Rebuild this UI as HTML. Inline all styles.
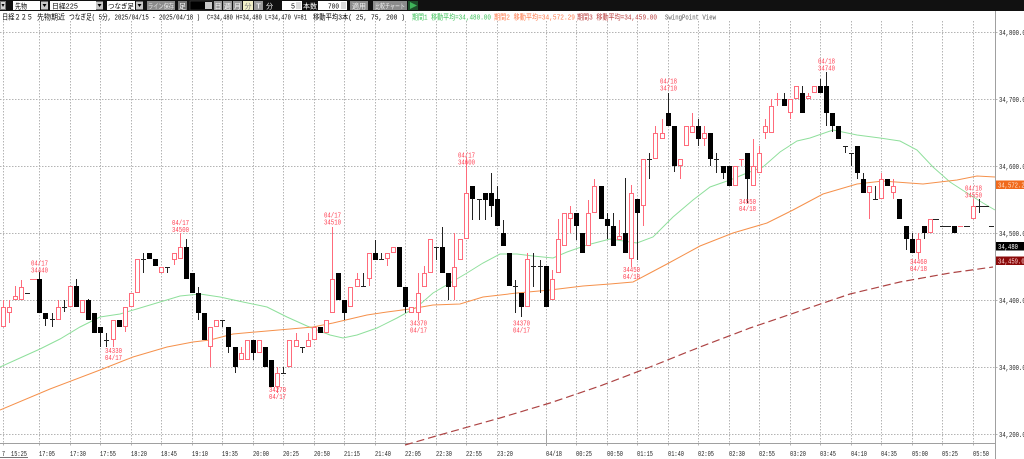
<!DOCTYPE html>
<html><head><meta charset="utf-8"><style>
html,body{margin:0;padding:0;background:#fff;}
svg{display:block;}
text{font-family:"Liberation Mono","Noto Sans CJK JP",monospace;}
</style></head><body>
<svg width="1024" height="459" viewBox="0 0 1024 459" xmlns="http://www.w3.org/2000/svg">
<rect x="0" y="0" width="1024" height="459" fill="#fff"/>
<!-- toolbar -->
<rect x="0" y="0" width="1024" height="11" fill="#111"/>
<g font-size="7" lengthAdjust="spacingAndGlyphs">
<rect x="0.5" y="1.5" width="5" height="8" fill="#d4d4d4" stroke="#777"/><polygon points="1.5,4 4.5,4 3,7" fill="#000"/>
<rect x="13" y="1" width="27" height="9" fill="#fff"/><text x="15" y="8.5" fill="#000" textLength="12" lengthAdjust="spacingAndGlyphs">先物</text>
<rect x="41" y="1.5" width="7" height="8" fill="#c8c8c8"/><polygon points="42.5,4 46.5,4 44.5,7" fill="#000"/>
<rect x="50" y="1" width="46" height="9" fill="#fff"/><text x="52" y="8.5" fill="#000" textLength="26" lengthAdjust="spacingAndGlyphs">日経225</text>
<rect x="96" y="1.5" width="7" height="8" fill="#c8c8c8"/><polygon points="97.5,4 101.5,4 99.5,7" fill="#000"/>
<rect x="107" y="1" width="28" height="9" fill="#fff"/><text x="108" y="8.5" fill="#000" textLength="26" lengthAdjust="spacingAndGlyphs">つなぎ足</text>
<rect x="136" y="1.5" width="7" height="8" fill="#c8c8c8"/><polygon points="137.5,4 141.5,4 139.5,7" fill="#000"/>
<rect x="147" y="1" width="28" height="9" fill="#8c8c8c"/><text x="148" y="8.5" fill="#e8e8e8" textLength="26" lengthAdjust="spacingAndGlyphs">ライン保存</text>
<rect x="178" y="1" width="9" height="9" fill="#777"/><text x="179" y="8.5" fill="#fff" textLength="7" lengthAdjust="spacingAndGlyphs">足</text>
<rect x="190" y="1" width="23" height="9" fill="#000" stroke="#555" stroke-width="0.5"/><rect x="205" y="2" width="7" height="7" fill="#c8c8c8"/>
<rect x="214" y="1" width="8" height="9" fill="#9a9a9a"/><text x="214.5" y="8.5" fill="#fff" textLength="7" lengthAdjust="spacingAndGlyphs">日</text>
<rect x="223" y="1" width="9" height="9" fill="#9a9a9a"/><text x="224" y="8.5" fill="#fff" textLength="7" lengthAdjust="spacingAndGlyphs">週</text>
<rect x="233" y="1" width="9" height="9" fill="#9a9a9a"/><text x="234" y="8.5" fill="#fff" textLength="7" lengthAdjust="spacingAndGlyphs">月</text>
<rect x="243" y="1" width="10" height="9" fill="#f2f0c8"/><text x="244.5" y="8.5" fill="#777" textLength="7" lengthAdjust="spacingAndGlyphs">分</text>
<rect x="254" y="1" width="9" height="9" fill="#9a9a9a"/><text x="256" y="8.5" fill="#fff" textLength="5" lengthAdjust="spacingAndGlyphs">T</text>
<text x="266" y="8.5" fill="#fff" textLength="7" lengthAdjust="spacingAndGlyphs">分</text>
<rect x="282" y="1" width="20" height="9" fill="#fff"/><text x="291" y="8.5" fill="#000" textLength="4" lengthAdjust="spacingAndGlyphs">5</text><rect x="296" y="2" width="5" height="7" fill="#ddd"/>
<text x="303" y="8.5" fill="#fff" textLength="14" lengthAdjust="spacingAndGlyphs">本数</text>
<rect x="318" y="1" width="29" height="9" fill="#fff"/><text x="328" y="8.5" fill="#000" textLength="11" lengthAdjust="spacingAndGlyphs">700</text><rect x="341" y="2" width="5" height="7" fill="#ddd"/>
<rect x="350" y="1" width="18" height="9" fill="#8c8c8c"/><text x="352" y="8.5" fill="#eee" textLength="14" lengthAdjust="spacingAndGlyphs">適用</text>
<rect x="373" y="1" width="34" height="9" fill="#8c8c8c"/><text x="375" y="8.5" fill="#eee" textLength="30" lengthAdjust="spacingAndGlyphs">比較チャート</text>
<rect x="408" y="1" width="10" height="9" fill="#1d4d2a"/><polygon points="410,2 417,5.5 410,9" fill="#3fb45a"/>
</g>
<!-- header text -->
<g font-size="7.5">
<text x="2" y="19.5" fill="#000" textLength="31" lengthAdjust="spacingAndGlyphs">日経２２５</text>
<text x="37" y="19.5" fill="#000" textLength="28" lengthAdjust="spacingAndGlyphs">先物期近</text>
<text x="69" y="19.5" fill="#000" textLength="131" lengthAdjust="spacingAndGlyphs">つなぎ足( 5分, 2025/04/15 - 2025/04/18 )</text>
<text x="207" y="19.5" fill="#000" textLength="100" lengthAdjust="spacingAndGlyphs">C=34,480 H=34,480 L=34,470 V=81</text>
<text x="313" y="19.5" fill="#000" textLength="92" lengthAdjust="spacingAndGlyphs">移動平均3本( 25, 75, 200 )</text>
<text x="412" y="19.5" fill="#3dc25a" textLength="79" lengthAdjust="spacingAndGlyphs">期間1 移動平均=34,480.00</text>
<text x="494" y="19.5" fill="#ff7a4a" textLength="81" lengthAdjust="spacingAndGlyphs">期間2 移動平均=34,572.29</text>
<text x="577" y="19.5" fill="#b83a3a" textLength="80" lengthAdjust="spacingAndGlyphs">期間3 移動平均=34,459.00</text>
<text x="665" y="19.5" fill="#555" textLength="51" lengthAdjust="spacingAndGlyphs">SwingPoint View</text>
</g>
<!-- grid -->
<g stroke="#b4b4b4" stroke-width="1" stroke-dasharray="1.5,1.5" fill="none">
<path d="M0 32.5H999M0 99.5H999M0 166.5H999M0 233.5H999M0 300.5H999M0 367.5H999M0 434.5H999"/>
<path d="M3.5 21V446M39.5 21V446M70.5 21V446M100.5 21V446M131.5 21V446M161.5 21V446M192.5 21V446M222.5 21V446M253.5 21V446M283.5 21V446M314.5 21V446M344.5 21V446M375.5 21V446M405.5 21V446M436.5 21V446M466.5 21V446M497.5 21V446M546.5 21V446M576.5 21V446M607.5 21V446M637.5 21V446M668.5 21V446M698.5 21V446M729.5 21V446M759.5 21V446M790.5 21V446M820.5 21V446M851.5 21V446M881.5 21V446M912.5 21V446M942.5 21V446M973.5 21V446"/>
</g>
<path d="M0 443.5H995.5M995.5 11V459" stroke="#a0a0a0" stroke-width="1" fill="none"/>
<path d="M546.5 430V446" stroke="#a8a8a8" stroke-width="1"/>
<!-- MAs -->
<polyline fill="none" stroke="#8fdf9c" stroke-width="1" points="0,367 20,358 40,349 60,339 80,327 100,317 120,314 140,308 160,302 180,296 200,294 220,297 243,302 267,307 287,317 307,326 330,335 343,338 357,335 377,328 397,318 417,307 433,293 450,283 467,273 483,263 500,254 517,254 533,256 553,258 567,252 587,245 610,239 637,243 653,237 673,217 693,200 710,187 730,180 747,173 763,167 780,152 797,141 810,138 833,130 857,135 880,138 900,141 917,150 933,167 950,182 967,193 983,203 995,210"/>
<polyline fill="none" stroke="#f5914c" stroke-width="1" points="0,410 50,389 100,370 133,357 167,347 193,342 210,340 233,334 267,331 313,327 333,323 367,315 387,312 410,309 433,305 460,304 483,297 517,293 550,290 583,286 610,284 633,282 650,273 667,264 700,246 733,233 767,223 793,210 823,194 857,184 883,181 923,184 957,180 977,176 995,177"/>
<polyline fill="none" stroke="#ad4444" stroke-width="1.2" stroke-dasharray="8,4" points="405,445 450,432 500,418 550,403 600,386 650,367 700,347 750,328 800,311 850,294 900,282 950,273 993,267"/>
<!-- pink wicks -->
<path fill="none" stroke="#ff6b7b" stroke-width="1" d="M3.5 300V327M9.5 300V323M15.5 286V300M21.5 280V300M58.5 300V320M70.5 286V307M82.5 300V313M113.5 320V347M125.5 307V332M131.5 293V307M137.5 259V293M161.5 267V273M174.5 253V265M180.5 233V259M210.5 327V367M216.5 320V327M241.5 347V360M247.5 340V360M259.5 340V353M277.5 367V393M289.5 340V367M296.5 333V347M308.5 333V347M314.5 327V340M326.5 320V333M332.5 227V313M350.5 287V307M357.5 273V287M369.5 253V286M387.5 253V266M393.5 247V253M411.5 307V313M418.5 273V320M424.5 266V287M430.5 239V273M454.5 233V300M460.5 239V260M466.5 157V239M527.5 253V307M552.5 270V300M558.5 219V273M564.5 213V246M570.5 206V233M588.5 200V246M594.5 179V213M619.5 220V240M631.5 185V267M643.5 159V226M655.5 126V159M662.5 119V139M680.5 159V179M686.5 126V146M692.5 113V133M704.5 126V146M735.5 166V186M741.5 159V166M753.5 139V186M759.5 146V173M765.5 119V139M771.5 99V133M777.5 93V106M790.5 99V119M796.5 86V99M808.5 93V99M814.5 86V93M869.5 186V219M881.5 173V199M893.5 179V199M918.5 233V259M930.5 219V233M973.5 199V219M30 279.5H37M739 159.5H744M958 226.5H963M775 99.5H780"/>
<!-- pink bodies -->
<g fill="#fff" stroke="#ff6b7b" stroke-width="1">
<rect x="1.5" y="307.5" width="4" height="19"/><rect x="7.5" y="307.5" width="4" height="5"/><rect x="13.5" y="296.5" width="4" height="3"/><rect x="19.5" y="287.5" width="4" height="12"/>
<rect x="56.5" y="307.5" width="4" height="12"/><rect x="68.5" y="286.5" width="4" height="20"/><rect x="80.5" y="300.5" width="4" height="12"/>
<rect x="111.5" y="320.5" width="4" height="19"/><rect x="123.5" y="307.5" width="4" height="19"/><rect x="129.5" y="293.5" width="4" height="13"/><rect x="135.5" y="259.5" width="4" height="33"/>
<rect x="159.5" y="267.5" width="4" height="5"/><rect x="172.5" y="253.5" width="4" height="6"/><rect x="178.5" y="247.5" width="4" height="11"/>
<rect x="208.5" y="327.5" width="4" height="19"/><rect x="214.5" y="320.5" width="4" height="6"/><rect x="239.5" y="353.5" width="4" height="6"/><rect x="245.5" y="340.5" width="4" height="19"/><rect x="257.5" y="340.5" width="4" height="12"/>
<rect x="275.5" y="373.5" width="4" height="13"/><rect x="287.5" y="340.5" width="4" height="26"/><rect x="294.5" y="340.5" width="4" height="6"/><rect x="306.5" y="340.5" width="4" height="6"/><rect x="312.5" y="327.5" width="4" height="12"/><rect x="324.5" y="320.5" width="4" height="12"/>
<rect x="330.5" y="279.5" width="4" height="33"/><rect x="348.5" y="287.5" width="4" height="19"/><rect x="355.5" y="279.5" width="4" height="7"/><rect x="367.5" y="253.5" width="4" height="25"/><rect x="385.5" y="253.5" width="4" height="5"/><rect x="391.5" y="247.5" width="4" height="5"/>
<rect x="409.5" y="307.5" width="4" height="5"/><rect x="416.5" y="293.5" width="4" height="19"/><rect x="422.5" y="273.5" width="4" height="13"/><rect x="428.5" y="239.5" width="4" height="33"/>
<rect x="452.5" y="267.5" width="4" height="19"/><rect x="458.5" y="239.5" width="4" height="20"/><rect x="464.5" y="193.5" width="4" height="45"/>
<rect x="525.5" y="259.5" width="4" height="47"/><rect x="550.5" y="279.5" width="4" height="20"/><rect x="556.5" y="239.5" width="4" height="33"/><rect x="562.5" y="213.5" width="4" height="32"/><rect x="568.5" y="213.5" width="4" height="5"/>
<rect x="586.5" y="213.5" width="4" height="32"/><rect x="592.5" y="186.5" width="4" height="26"/><rect x="617.5" y="236.5" width="4" height="3"/><rect x="629.5" y="193.5" width="4" height="65"/><rect x="641.5" y="159.5" width="4" height="46"/>
<rect x="653.5" y="133.5" width="4" height="25"/><rect x="660.5" y="133.5" width="4" height="5"/><rect x="678.5" y="159.5" width="4" height="6"/><rect x="684.5" y="126.5" width="4" height="19"/><rect x="690.5" y="126.5" width="4" height="6"/><rect x="702.5" y="133.5" width="4" height="5"/>
<rect x="733.5" y="166.5" width="4" height="19"/><rect x="751.5" y="166.5" width="4" height="19"/><rect x="757.5" y="153.5" width="4" height="19"/><rect x="763.5" y="126.5" width="4" height="6"/><rect x="769.5" y="106.5" width="4" height="26"/>
<rect x="788.5" y="99.5" width="4" height="13"/><rect x="794.5" y="86.5" width="4" height="12"/><rect x="806.5" y="96.5" width="4" height="2"/><rect x="812.5" y="86.5" width="4" height="6"/>
<rect x="867.5" y="186.5" width="4" height="6"/><rect x="879.5" y="179.5" width="4" height="19"/><rect x="891.5" y="186.5" width="4" height="6"/><rect x="916.5" y="239.5" width="4" height="13"/><rect x="928.5" y="219.5" width="4" height="13"/><rect x="971.5" y="206.5" width="4" height="12"/>
</g>
<!-- black wicks -->
<path fill="none" stroke="#222" stroke-width="1" d="M39.5 272V313M45.5 313V326M52.5 313V327M64.5 300V312M76.5 279V307M88.5 299V320M100.5 327V347M106.5 333V347M143.5 253V273M167.5 267V273M186.5 239V279M198.5 287V320M222.5 320V327M228.5 327V353M235.5 347V373M253.5 340V360M283.5 367V373M302.5 347V353M344.5 300V320M363.5 273V286M375.5 240V260M381.5 253V259M405.5 287V313M436.5 247V260M442.5 227V273M448.5 273V300M472.5 186V220M479.5 199V220M485.5 193V220M491.5 173V217M497.5 186V226M503.5 220V246M515.5 280V313M521.5 293V317M533.5 253V287M540.5 260V293M576.5 213V240M607.5 213V239M613.5 213V246M625.5 178V253M637.5 199V260M649.5 153V179M668.5 93V126M674.5 126V172M698.5 119V146M710.5 133V166M716.5 153V173M723.5 166V179M747.5 153V203M784.5 93V106M802.5 86V113M820.5 79V93M826.5 72V126M832.5 113V132M845.5 146V153M851.5 153V166M857.5 146V179M863.5 173V193M875.5 186V199M906.5 226V250M912.5 233V253M924.5 226V239M979.5 199V213M25 293.5H30M50 319.5H55M62 307.5H67M104 340.5H109M141 259.5H146M165 267.5H170M220 320.5H225M281 373.5H286M300 347.5H305M361 286.5H366M379 259.5H384M434 247.5H439M477 199.5H482M513 286.5H518M531 266.5H536M538 266.5H543M647 159.5H652M714 159.5H719M843 146.5H848M849 153.5H854M873 199.5H878M933 219.5H939M940 226.5H951M964 226.5H970M976 206.5H989M989 226.5H994"/>
<!-- black bodies -->
<g fill="#000">
<rect x="37" y="279" width="5" height="34"/><rect x="43" y="313" width="5" height="6"/><rect x="74" y="286" width="5" height="21"/><rect x="86" y="300" width="5" height="20"/><rect x="92" y="313" width="5" height="20"/><rect x="98" y="327" width="5" height="6"/>
<rect x="117" y="320" width="5" height="7"/><rect x="147" y="253" width="5" height="6"/><rect x="153" y="259" width="5" height="7"/><rect x="184" y="247" width="5" height="32"/><rect x="190" y="273" width="5" height="20"/><rect x="196" y="293" width="5" height="20"/><rect x="202" y="313" width="5" height="27"/>
<rect x="226" y="327" width="5" height="20"/><rect x="233" y="347" width="5" height="20"/><rect x="251" y="340" width="5" height="13"/><rect x="263" y="347" width="5" height="20"/><rect x="269" y="360" width="5" height="27"/>
<rect x="318" y="327" width="5" height="6"/><rect x="336" y="273" width="5" height="27"/><rect x="342" y="300" width="5" height="13"/><rect x="373" y="253" width="5" height="7"/><rect x="397" y="247" width="5" height="40"/><rect x="403" y="287" width="5" height="20"/>
<rect x="440" y="247" width="5" height="26"/><rect x="446" y="273" width="5" height="14"/><rect x="470" y="186" width="5" height="13"/><rect x="483" y="193" width="5" height="7"/><rect x="489" y="193" width="5" height="13"/><rect x="495" y="199" width="5" height="27"/><rect x="501" y="233" width="5" height="13"/><rect x="507" y="253" width="5" height="33"/><rect x="519" y="293" width="5" height="14"/><rect x="544" y="266" width="5" height="41"/>
<rect x="574" y="213" width="5" height="13"/><rect x="580" y="233" width="5" height="20"/><rect x="599" y="186" width="5" height="33"/><rect x="605" y="219" width="5" height="7"/><rect x="611" y="226" width="5" height="20"/><rect x="623" y="233" width="5" height="20"/><rect x="635" y="199" width="5" height="14"/>
<rect x="666" y="113" width="5" height="13"/><rect x="672" y="126" width="5" height="40"/><rect x="696" y="126" width="5" height="13"/><rect x="708" y="133" width="5" height="26"/><rect x="721" y="166" width="5" height="7"/><rect x="727" y="166" width="5" height="20"/><rect x="745" y="153" width="5" height="26"/>
<rect x="782" y="99" width="5" height="7"/><rect x="800" y="93" width="5" height="20"/><rect x="818" y="86" width="5" height="7"/><rect x="824" y="86" width="5" height="27"/><rect x="830" y="113" width="5" height="13"/><rect x="836" y="126" width="5" height="13"/>
<rect x="855" y="146" width="5" height="27"/><rect x="861" y="179" width="5" height="14"/><rect x="885" y="179" width="5" height="7"/><rect x="897" y="199" width="5" height="20"/><rect x="904" y="226" width="5" height="13"/><rect x="910" y="239" width="5" height="14"/><rect x="922" y="226" width="5" height="7"/><rect x="952" y="226" width="5" height="7"/>
</g>
<!-- swing labels -->
<g font-size="7" fill="#ff3f52" text-anchor="middle">
<text x="39.5" y="265.5" textLength="17" lengthAdjust="spacingAndGlyphs">04/17</text><text x="39.5" y="272.5" textLength="17" lengthAdjust="spacingAndGlyphs">34440</text>
<text x="113.5" y="353" textLength="17" lengthAdjust="spacingAndGlyphs">34330</text><text x="113.5" y="360" textLength="17" lengthAdjust="spacingAndGlyphs">04/17</text>
<text x="180.5" y="225" textLength="17" lengthAdjust="spacingAndGlyphs">04/17</text><text x="180.5" y="232" textLength="17" lengthAdjust="spacingAndGlyphs">34500</text>
<text x="277.5" y="392" textLength="17" lengthAdjust="spacingAndGlyphs">34270</text><text x="277.5" y="399" textLength="17" lengthAdjust="spacingAndGlyphs">04/17</text>
<text x="332.5" y="217.5" textLength="17" lengthAdjust="spacingAndGlyphs">04/17</text><text x="332.5" y="224.5" textLength="17" lengthAdjust="spacingAndGlyphs">34510</text>
<text x="418.5" y="325.5" textLength="17" lengthAdjust="spacingAndGlyphs">34370</text><text x="418.5" y="332.5" textLength="17" lengthAdjust="spacingAndGlyphs">04/17</text>
<text x="466.5" y="157.5" textLength="17" lengthAdjust="spacingAndGlyphs">04/17</text><text x="466.5" y="164.5" textLength="17" lengthAdjust="spacingAndGlyphs">34600</text>
<text x="521.5" y="325.5" textLength="17" lengthAdjust="spacingAndGlyphs">34370</text><text x="521.5" y="332.5" textLength="17" lengthAdjust="spacingAndGlyphs">04/17</text>
<text x="631.5" y="272" textLength="17" lengthAdjust="spacingAndGlyphs">34450</text><text x="631.5" y="279" textLength="17" lengthAdjust="spacingAndGlyphs">04/18</text>
<text x="668.5" y="83.5" textLength="17" lengthAdjust="spacingAndGlyphs">04/18</text><text x="668.5" y="90.5" textLength="17" lengthAdjust="spacingAndGlyphs">34710</text>
<text x="747.5" y="204" textLength="17" lengthAdjust="spacingAndGlyphs">34550</text><text x="747.5" y="211" textLength="17" lengthAdjust="spacingAndGlyphs">04/18</text>
<text x="826.5" y="63.5" textLength="17" lengthAdjust="spacingAndGlyphs">04/18</text><text x="826.5" y="70.5" textLength="17" lengthAdjust="spacingAndGlyphs">34740</text>
<text x="918.5" y="264" textLength="17" lengthAdjust="spacingAndGlyphs">34460</text><text x="918.5" y="271" textLength="17" lengthAdjust="spacingAndGlyphs">04/18</text>
<text x="973.5" y="190.5" textLength="17" lengthAdjust="spacingAndGlyphs">04/18</text><text x="973.5" y="197.5" textLength="17" lengthAdjust="spacingAndGlyphs">34550</text>
</g>
<!-- price axis labels -->
<g font-size="7.5" fill="#222">
<text x="999" y="35" textLength="30" lengthAdjust="spacingAndGlyphs">34,800.00</text>
<text x="999" y="102" textLength="30" lengthAdjust="spacingAndGlyphs">34,700.00</text>
<text x="999" y="169" textLength="30" lengthAdjust="spacingAndGlyphs">34,600.00</text>
<text x="999" y="236" textLength="30" lengthAdjust="spacingAndGlyphs">34,500.00</text>
<text x="999" y="303" textLength="30" lengthAdjust="spacingAndGlyphs">34,400.00</text>
<text x="999" y="370" textLength="30" lengthAdjust="spacingAndGlyphs">34,300.00</text>
<text x="999" y="437" textLength="30" lengthAdjust="spacingAndGlyphs">34,200.00</text>
</g>
<rect x="996" y="180.5" width="28" height="8.5" fill="#f06a1c"/>
<text x="998" y="187.5" font-size="7.5" fill="#ffe2cc" textLength="30" lengthAdjust="spacingAndGlyphs">34,572.29</text>
<rect x="996" y="242" width="28" height="8.5" fill="#000"/>
<text x="998" y="249" font-size="7.5" fill="#fff" textLength="20" lengthAdjust="spacingAndGlyphs">34,480</text>
<rect x="996" y="256.5" width="28" height="8.5" fill="#8b0a0a"/>
<text x="998" y="263.5" font-size="7.5" fill="#ffd6d6" textLength="30" lengthAdjust="spacingAndGlyphs">34,459.00</text>
<!-- time axis labels -->
<g font-size="7.5" fill="#222">
<text x="2" y="456" textLength="3" lengthAdjust="spacingAndGlyphs">7</text>
<text x="11" y="456" textLength="16" lengthAdjust="spacingAndGlyphs">15:25</text>
<text x="39" y="456" textLength="16" lengthAdjust="spacingAndGlyphs">17:05</text>
<text x="70" y="456" textLength="16" lengthAdjust="spacingAndGlyphs">17:30</text>
<text x="100" y="456" textLength="16" lengthAdjust="spacingAndGlyphs">17:55</text>
<text x="131" y="456" textLength="16" lengthAdjust="spacingAndGlyphs">18:20</text>
<text x="161" y="456" textLength="16" lengthAdjust="spacingAndGlyphs">18:45</text>
<text x="192" y="456" textLength="16" lengthAdjust="spacingAndGlyphs">19:10</text>
<text x="222" y="456" textLength="16" lengthAdjust="spacingAndGlyphs">19:35</text>
<text x="253" y="456" textLength="16" lengthAdjust="spacingAndGlyphs">20:00</text>
<text x="283" y="456" textLength="16" lengthAdjust="spacingAndGlyphs">20:25</text>
<text x="314" y="456" textLength="16" lengthAdjust="spacingAndGlyphs">20:50</text>
<text x="344" y="456" textLength="16" lengthAdjust="spacingAndGlyphs">21:15</text>
<text x="375" y="456" textLength="16" lengthAdjust="spacingAndGlyphs">21:40</text>
<text x="405" y="456" textLength="16" lengthAdjust="spacingAndGlyphs">22:05</text>
<text x="436" y="456" textLength="16" lengthAdjust="spacingAndGlyphs">22:30</text>
<text x="466" y="456" textLength="16" lengthAdjust="spacingAndGlyphs">22:55</text>
<text x="497" y="456" textLength="16" lengthAdjust="spacingAndGlyphs">23:20</text>
<text x="546" y="456" textLength="16" lengthAdjust="spacingAndGlyphs">04/18</text>
<text x="576" y="456" textLength="16" lengthAdjust="spacingAndGlyphs">00:25</text>
<text x="607" y="456" textLength="16" lengthAdjust="spacingAndGlyphs">00:50</text>
<text x="637" y="456" textLength="16" lengthAdjust="spacingAndGlyphs">01:15</text>
<text x="668" y="456" textLength="16" lengthAdjust="spacingAndGlyphs">01:40</text>
<text x="698" y="456" textLength="16" lengthAdjust="spacingAndGlyphs">02:05</text>
<text x="729" y="456" textLength="16" lengthAdjust="spacingAndGlyphs">02:30</text>
<text x="759" y="456" textLength="16" lengthAdjust="spacingAndGlyphs">02:55</text>
<text x="790" y="456" textLength="16" lengthAdjust="spacingAndGlyphs">03:20</text>
<text x="820" y="456" textLength="16" lengthAdjust="spacingAndGlyphs">03:45</text>
<text x="851" y="456" textLength="16" lengthAdjust="spacingAndGlyphs">04:10</text>
<text x="881" y="456" textLength="16" lengthAdjust="spacingAndGlyphs">04:35</text>
<text x="912" y="456" textLength="16" lengthAdjust="spacingAndGlyphs">05:00</text>
<text x="942" y="456" textLength="16" lengthAdjust="spacingAndGlyphs">05:25</text>
<text x="973" y="456" textLength="16" lengthAdjust="spacingAndGlyphs">05:50</text>
</g>
<path d="M0 457.5H28" stroke="#777" stroke-width="1"/>
</svg>
</body></html>
